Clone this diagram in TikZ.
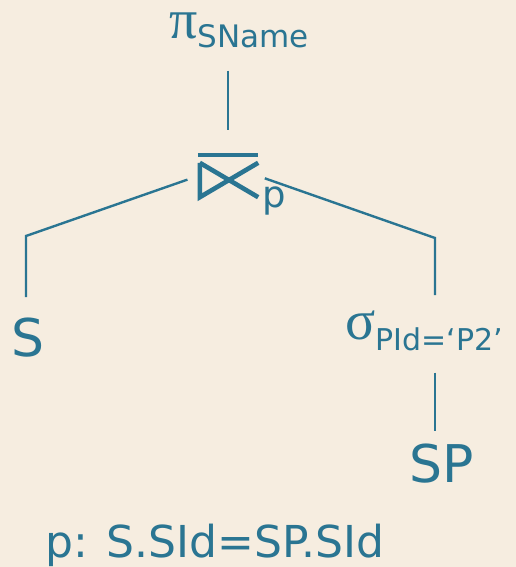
\documentclass[tikz,border=0pt]{standalone}
\usepackage{fontspec}
\setmainfont{DejaVu Sans}
\newfontfamily\greekfont{Liberation Serif}
\usepackage{xcolor}
\usetikzlibrary{positioning,calc}

\definecolor{bgbeige}{RGB}{246,237,224}
\definecolor{ink}{RGB}{42,117,146}

\newcommand{\fs}[1]{\fontsize{#1}{#1}\selectfont}

\begin{document}
\begin{tikzpicture}[
    x=1pt, y=-1pt,
    label/.style={inner sep=0pt, text=ink, font=\fs{#1}},
    label/.default=52,
    edge/.style={draw=ink, line width=2.4pt},
    joinsym/.style={draw=ink, line width=4.6pt},
  ]
  \fill[bgbeige] (0,0) rectangle (516,567);

  % Operators
  \node[label=31, anchor=base west] (proj) at (169,39)
    {{\greekfont\fs{56}π}\raisebox{-9pt}{SName}};
  \node[inner sep=0pt, minimum width=60pt, minimum height=42pt] (join) at (228,176) {};
  \node[label=37, anchor=base west] (jp) at ($(join.south east)+(4,10)$) {p};
  \node[label=30, anchor=base west] (sel) at (345,339)
    {{\greekfont\fs{56}σ}\raisebox{-11pt}{PId=‘P2’}};

  % Relations
  \node[label, anchor=base] (s) at (28,356) {S};
  \node[label, anchor=base] (sp) at (442,482) {SP};

  % Join predicate
  \node[label=44, anchor=base west] (pred) at (45,557) {p: S.SId=SP.SId};

  % Join symbol
  \draw[joinsym] (join.north west) -- (join.north east);
  \draw[joinsym, line cap=butt]
    ($(join.north west)+(2,8)$) -- ($(join.south west)+(2,0)$) -- ($(join.north east)+(0,8)$);
  \draw[joinsym] ($(join.north west)+(2,8)$) -- (join.south east);

  % Tree edges
  \coordinate (lcorner) at (26,236);
  \coordinate (rcorner) at (435,238);
  \draw[edge, shorten <=22pt, shorten >=25pt] (proj.south -| join.north) -- (join.north);
  \draw[edge, shorten <=11pt, shorten >=20pt] (join.west) -- (lcorner) -- (lcorner |- s.north);
  \draw[edge, shorten <=7pt, shorten >=15pt] (join.east) -- (rcorner) -- (rcorner |- sel.north);
  \draw[edge, shorten <=22pt, shorten >=12pt] (rcorner |- sel.south) -- (rcorner |- sp.north);
\end{tikzpicture}
\end{document}
